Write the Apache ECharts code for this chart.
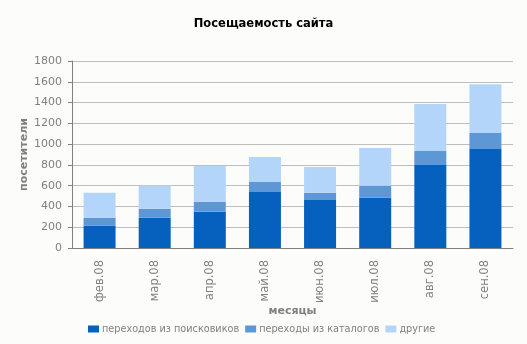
<!DOCTYPE html>
<html>
<head>
<meta charset="utf-8">
<script src="https://cdn.jsdelivr.net/npm/echarts@6/dist/echarts.min.js"></script>
<style>
html,body{margin:0;padding:0;background:#fcfdfb;}
#chart{width:527px;height:344px;}
</style>
</head>
<body>
<div id="chart"></div>
<script>
// Monthly site visits, split by traffic source
const months = ['фев.08','мар.08','апр.08','май.08','июн.08','июл.08','авг.08','сен.08'];
const fromSearch = [214, 291, 348, 540, 463, 483, 799, 953];
const fromCatalogs = [77, 86, 96, 96, 68, 115, 135, 153];
const other = [240, 224, 346, 240, 249, 364, 451, 471];
const seriesNames = ['переходов из поисковиков', 'переходы из каталогов', 'другие'];
const seriesColors = ['#0560be', '#5e97d5', '#b4d5fa'];

const font = "'DejaVu Sans', Verdana, sans-serif";
const chart = echarts.init(document.getElementById('chart'));
const values = [fromSearch, fromCatalogs, other];

chart.setOption({
  backgroundColor: '#fcfdfb',
  animation: false,
  title: {
    text: 'Посещаемость сайта',
    left: 'center',
    top: 13,
    textStyle: {fontFamily: font, fontSize: 11.5, fontWeight: 'bold', color: '#000'}
  },
  legend: {
    top: 319,
    left: 83,
    itemWidth: 11,
    itemHeight: 7,
    itemGap: 6,
    icon: 'rect',
    textStyle: {fontFamily: font, fontSize: 9.7, color: '#808080', padding: [0,0,0,-2]},
    data: seriesNames
  },
  grid: {left: 72, right: 14, top: 61, bottom: 96},
  xAxis: {
    type: 'category',
    data: months,
    name: 'месяцы',
    nameLocation: 'middle',
    nameGap: 58,
    nameMoveOverlap: false,
    nameTextStyle: {fontFamily: font, fontSize: 11, fontWeight: 'bold', color: '#808080'},
    axisLine: {lineStyle: {color: '#808080'}},
    axisTick: {length: 4, lineStyle: {color: '#808080'}},
    axisLabel: {rotate: 90, margin: 12, fontFamily: font, fontSize: 11.5, color: '#808080'}
  },
  yAxis: {
    type: 'value',
    min: 0, max: 1800, interval: 200,
    name: 'посетители',
    nameLocation: 'middle',
    nameGap: 42,
    nameMoveOverlap: false,
    nameTextStyle: {fontFamily: font, fontSize: 11, fontWeight: 'bold', color: '#808080'},
    axisLine: {show: true, lineStyle: {color: '#808080'}},
    axisTick: {show: true, length: 4, lineStyle: {color: '#808080'}},
    axisLabel: {margin: 10, fontFamily: font, fontSize: 11, color: '#808080', formatter: v => String(v)},
    splitLine: {lineStyle: {color: '#bebebe'}}
  },
  series: seriesNames.map((name, i) => ({
    name: name,
    type: 'bar',
    stack: 'visits',
    barWidth: 32,
    itemStyle: {color: seriesColors[i]},
    data: values[i]
  }))
});
</script>
</body>
</html>
